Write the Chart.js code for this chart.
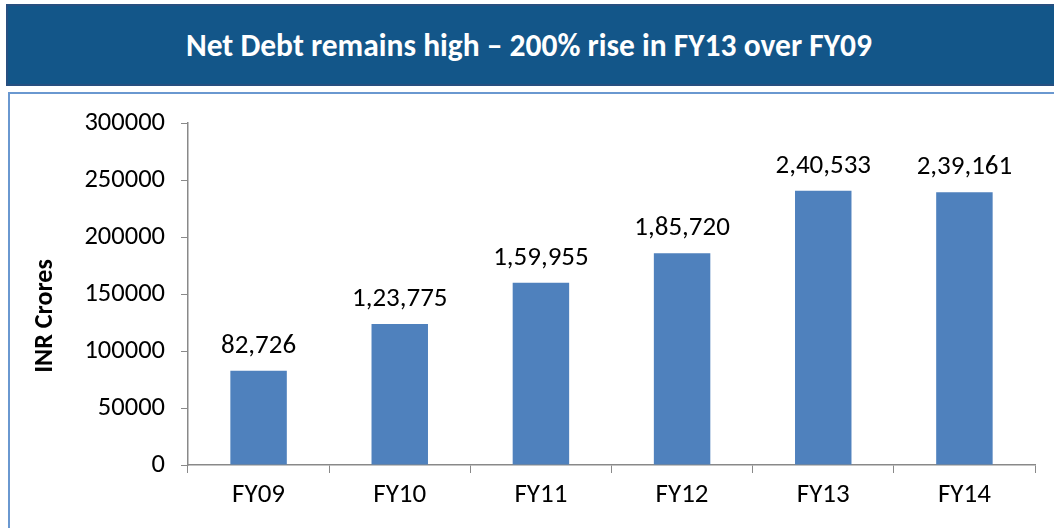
<!DOCTYPE html>
<html>
<head>
<meta charset="utf-8">
<script src="https://cdn.jsdelivr.net/npm/chart.js@4.4.0/dist/chart.umd.min.js"></script>
<style>
  html, body { margin: 0; padding: 0; background: #fff; }
  body { width: 1054px; height: 528px; position: relative; overflow: hidden; }
  #header {
    position: absolute; left: 6px; top: 4px; width: 1060px; height: 78px;
    background: #135689; border: 2px solid #274f80;
    color: #fff; font-family: Carlito, Lato, sans-serif; font-weight: bold;
    font-size: 31.5px; line-height: 78px; box-sizing: content-box;
  }
  #header span { position: absolute; left: -6px; width: 1054px; text-align: center; }
  #frame {
    position: absolute; left: 8px; top: 92px; width: 1100px; height: 500px;
    border: 2px solid #6a98d0;
  }
  #chartBox { position: absolute; left: 0; top: 0; width: 1054px; height: 528px; }
</style>
</head>
<body>
<div id="header"><span>Net Debt remains high – 200% rise in FY13 over FY09</span></div>
<div id="frame"></div>
<div id="chartBox"><canvas id="debtChart" width="1054" height="528"></canvas></div>
<script>
const categorias = ['FY09', 'FY10', 'FY11', 'FY12', 'FY13', 'FY14'];
const deudaNeta = [82726, 123775, 159955, 185720, 240533, 239161];
const tituloEje = 'INR Crores';

const fuente = 'Carlito, Lato, sans-serif';

// formato indio: 2,40,533
function formatoIndio(n) {
    const s = String(n);
    if (s.length <= 3) return s;
    const ult = s.slice(-3);
    let resto = s.slice(0, -3);
    const partes = [];
    while (resto.length > 2) {
        partes.unshift(resto.slice(-2));
        resto = resto.slice(0, -2);
    }
    if (resto) partes.unshift(resto);
    return partes.join(',') + ',' + ult;
}

const etiquetasPlugin = {
    id: 'etiquetas',
    afterDatasetsDraw(chart) {
        const ctx = chart.ctx;
        const meta = chart.getDatasetMeta(0);
        ctx.save();
        ctx.font = `27px ${fuente}`;
        ctx.fillStyle = '#000';
        ctx.textAlign = 'center';
        ctx.textBaseline = 'alphabetic';
        meta.data.forEach((bar, i) => {
            ctx.fillText(formatoIndio(deudaNeta[i]), bar.x, bar.y - 18);
        });
        // titulo del eje Y
        const area = chart.chartArea;
        ctx.font = `bold 26px ${fuente}`;
        ctx.textBaseline = 'middle';
        ctx.translate(45, (area.top + area.bottom) / 2 + 22);
        ctx.rotate(-Math.PI / 2);
        ctx.fillText(tituloEje, 0, 0);
        ctx.restore();
    }
};

const ctx = document.getElementById('debtChart').getContext('2d');
new Chart(ctx, {
    type: 'bar',
    data: {
        labels: categorias,
        datasets: [{
            data: deudaNeta,
            backgroundColor: '#4f81bd',
            barPercentage: 0.8,
            categoryPercentage: 0.5
        }]
    },
    options: {
        responsive: false,
        animation: false,
        devicePixelRatio: 1,
        layout: { padding: { top: 123, right: 19, left: 0, bottom: 0 } },
        plugins: { legend: { display: false }, tooltip: { enabled: false } },
        scales: {
            x: {
                grid: { drawOnChartArea: false, tickLength: 8, color: '#898989', offset: true },
                border: { color: '#898989', width: 1.5 },
                ticks: { color: '#000', font: { family: fuente, size: 27 }, padding: 6 },
                afterFit(scale) { scale.height = 63; }
            },
            y: {
                min: 0, max: 300000,
                grid: { drawOnChartArea: false, tickLength: 7, color: '#898989' },
                border: { color: '#898989', width: 1.5 },
                ticks: {
                    stepSize: 50000, color: '#000', font: { family: fuente, size: 26.5 }, padding: 16,
                    callback: v => String(v)
                },
                afterFit(scale) { scale.width = 188; }
            }
        }
    },
    plugins: [etiquetasPlugin]
});
</script>
</body>
</html>
